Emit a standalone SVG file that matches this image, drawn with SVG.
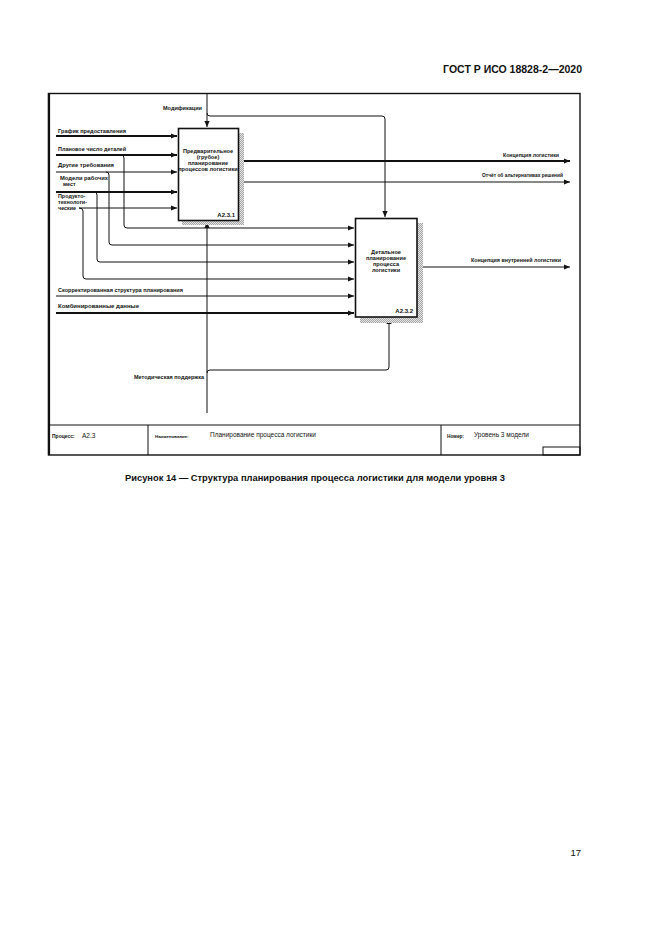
<svg xmlns="http://www.w3.org/2000/svg" width="661" height="935" viewBox="0 0 661 935">
<defs>
<marker id="arr" markerUnits="userSpaceOnUse" markerWidth="7" markerHeight="6" refX="6" refY="3" orient="auto">
<path d="M0,0.4 L6,3 L0,5.6 Z" fill="#111"/>
</marker>
<pattern id="hatch" patternUnits="userSpaceOnUse" width="2" height="2">
<rect width="2" height="2" fill="#e6e6e6"/>
<path d="M0,2 L2,0" stroke="#8a8a8a" stroke-width="0.7"/>
</pattern>
<style>
.lbl{font-family:"Liberation Sans",Arial,sans-serif;font-size:5.4px;font-weight:bold;fill:#111}
.box{fill:#fff;stroke:#111;stroke-width:1.6}
.btx{font-family:"Liberation Sans",Arial,sans-serif;font-size:5.6px;font-weight:bold;fill:#111;text-anchor:middle}
.id{font-family:"Liberation Sans",Arial,sans-serif;font-size:6px;font-weight:bold;fill:#111;text-anchor:end}
.ln{fill:none;stroke:#111;stroke-width:1}
.thk{fill:none;stroke:#111;stroke-width:1.8}
.ft{font-family:"Liberation Sans",Arial,sans-serif;fill:#111}
</style>
</defs>
<rect width="661" height="935" fill="#fff"/>
<text x="582" y="73" text-anchor="end" class="ft" font-size="10.5" font-weight="bold">ГОСТ Р ИСО 18828-2—2020</text>
<g id="frame">
<rect x="48.5" y="93.5" width="531.5" height="361.5" fill="none" stroke="#111" stroke-width="1.4"/>
<line x1="49" y1="93" x2="49" y2="455" stroke="#111" stroke-width="2.2"/>
<line x1="48" y1="425" x2="580" y2="425" stroke="#111" stroke-width="1"/>
<line x1="148" y1="425" x2="148" y2="455" stroke="#111" stroke-width="1"/>
<line x1="441" y1="425" x2="441" y2="455" stroke="#111" stroke-width="1"/>
<rect x="543" y="447" width="37" height="8" fill="none" stroke="#111" stroke-width="1"/>
<text x="52" y="438" class="ft" font-size="5" font-weight="bold">Процесс:</text>
<text x="82" y="438" class="ft" font-size="6.5">A2.3</text>
<text x="155" y="438" class="ft" font-size="4.4" font-weight="bold">Наименование:</text>
<text x="210" y="437" class="ft" font-size="6.5">Планирование процесса логистики</text>
<text x="447" y="438" class="ft" font-size="4.8" font-weight="bold">Номер:</text>
<text x="474" y="437" class="ft" font-size="6.5">Уровень 3 модели</text>
</g>
<g id="connectors">
<path class="ln" d="M207,94 V127" marker-end="url(#arr)"/>
<path class="ln" d="M207,113 Q207,116 210,116 H382 Q385,116 385,119 V217" marker-end="url(#arr)"/>
<path class="thk" d="M56,136 H177" marker-end="url(#arr)"/>
<path class="thk" d="M56,155 H177" marker-end="url(#arr)"/>
<path class="ln" d="M121,155 Q124,155 124,158 V225 Q124,228 127,228 H354" marker-end="url(#arr)"/>
<path class="ln" d="M56,172 H177" marker-end="url(#arr)"/>
<path class="ln" d="M106,172 Q109,172 109,175 V242 Q109,245 112,245 H354" marker-end="url(#arr)"/>
<path class="thk" d="M56,192 H177" marker-end="url(#arr)"/>
<path class="ln" d="M94,192 Q97,192 97,195 V259 Q97,262 100,262 H354" marker-end="url(#arr)"/>
<path class="ln" d="M79,208 H177" marker-end="url(#arr)"/>
<path class="ln" d="M79,208 Q83,208 83,211 V276 Q83,279 86,279 H354" marker-end="url(#arr)"/>
<path class="ln" d="M56,296 H354" marker-end="url(#arr)"/>
<path class="thk" d="M56,313 H354" marker-end="url(#arr)"/>
<path class="thk" d="M239,161 H570" marker-end="url(#arr)"/>
<path class="ln" d="M239,182 H570" marker-end="url(#arr)"/>
<path class="ln" d="M418,267 H570" marker-end="url(#arr)"/>
<path class="ln" d="M207,413 V222" marker-end="url(#arr)"/>
<path class="ln" d="M207,373 Q207,370 210,370 H386 Q389,370 389,367 V318" marker-end="url(#arr)"/>
</g>
<g id="labels">
<text x="163" y="110" class="lbl" textLength="39" lengthAdjust="spacingAndGlyphs">Модификации</text>
<text x="58" y="133" class="lbl" textLength="68" lengthAdjust="spacingAndGlyphs">График предоставления</text>
<text x="58" y="151" class="lbl" textLength="68" lengthAdjust="spacingAndGlyphs">Плановое число деталей</text>
<text x="58" y="167" class="lbl" textLength="56" lengthAdjust="spacingAndGlyphs">Другие требования</text>
<text x="60" y="180" class="lbl" textLength="48" lengthAdjust="spacingAndGlyphs">Модели рабочих</text>
<text x="63" y="186" class="lbl">мест</text>
<rect x="57" y="193" width="22" height="18" fill="#fff"/>
<text x="58" y="198" class="lbl">Продукто-</text>
<text x="58" y="204" class="lbl">технологи-</text>
<text x="58" y="210" class="lbl">ческие</text>
<text x="58" y="292" class="lbl" textLength="125" lengthAdjust="spacingAndGlyphs">Скорректированная структура планирования</text>
<text x="58" y="308" class="lbl" textLength="81" lengthAdjust="spacingAndGlyphs">Комбинированные данные</text>
<text x="503" y="157" class="lbl" textLength="56" lengthAdjust="spacingAndGlyphs">Концепция логистики</text>
<text x="482" y="177" class="lbl" textLength="81" lengthAdjust="spacingAndGlyphs">Отчёт об альтернативах решений</text>
<text x="471" y="262" class="lbl" textLength="90" lengthAdjust="spacingAndGlyphs">Концепция внутренней логистики</text>
<text x="134" y="379" class="lbl" textLength="70" lengthAdjust="spacingAndGlyphs">Методическая поддержка</text>
</g>
<g id="node-A2.3.1">
<rect x="182" y="133" width="62" height="92" fill="url(#hatch)"/>
<rect x="178.5" y="128.5" width="60" height="92" class="box"/>
<text x="208" y="153" class="btx">Предварительное</text>
<text x="208" y="159" class="btx">(грубое)</text>
<text x="208" y="165" class="btx">планирование</text>
<text x="208" y="171" class="btx">процессов логистики</text>
<text x="235" y="217" class="id">A2.3.1</text>
</g>
<g id="node-A2.3.2">
<rect x="360" y="223" width="63" height="100" fill="url(#hatch)"/>
<rect x="355.5" y="218.5" width="61.5" height="98.5" class="box"/>
<text x="386" y="254" class="btx">Детальное</text>
<text x="386" y="260" class="btx">планирование</text>
<text x="386" y="266" class="btx">процесса</text>
<text x="386" y="272" class="btx">логистики</text>
<text x="413" y="313" class="id">A2.3.2</text>
</g>
<text x="125" y="481" class="ft" font-size="8.6" font-weight="bold" textLength="380" lengthAdjust="spacingAndGlyphs">Рисунок 14 — Структура планирования процесса логистики для модели уровня 3</text>
<text x="581" y="856" text-anchor="end" class="ft" font-size="9.5">17</text>
</svg>
